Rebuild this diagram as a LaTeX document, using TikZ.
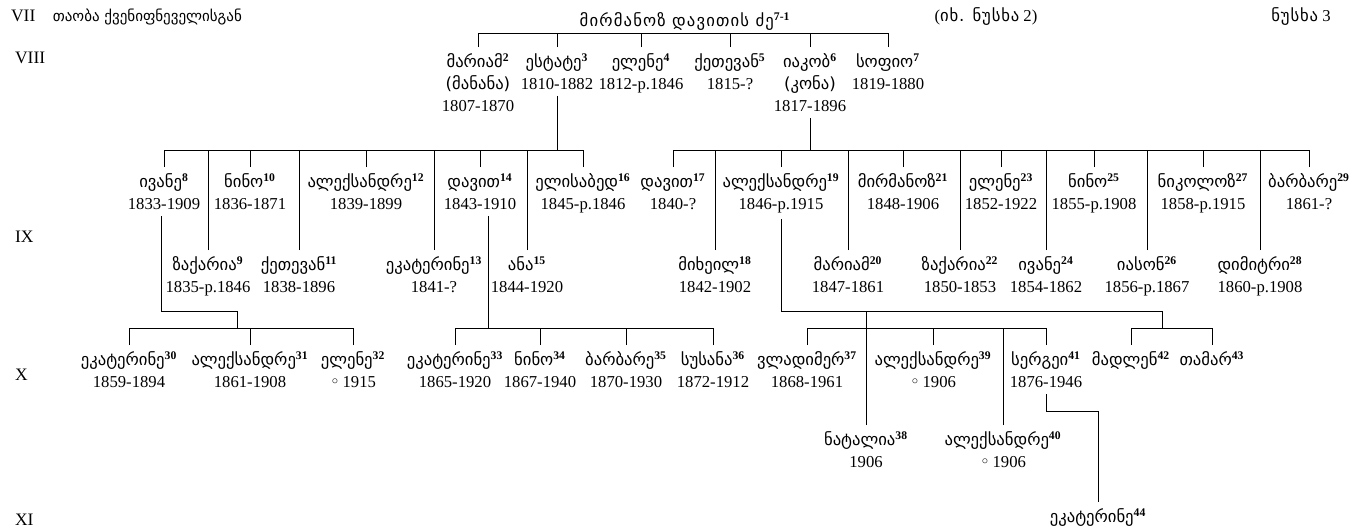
\documentclass[tikz,border=0pt]{standalone}
\usepackage{fontspec}
\setmainfont{Liberation Serif}
\newfontfamily\geofont{DejaVu Sans}
\newcommand{\gn}[2]{{\geofont #1}\textsuperscript{\textbf{#2}}}

\begin{document}
\begin{tikzpicture}[x=0.6pt,y=-0.6pt,line width=0.6pt,
  person/.style={font=\fontsize{10}{13.2}\selectfont,align=center,
    inner xsep=0pt,inner ysep=3.6pt,anchor=north},
  gen/.style={font=\fontsize{10.5}{12}\selectfont,anchor=west}]
  \useasboundingbox (0,0) rectangle (1367,528);
  % heading line
  \node[gen] (g7) at (5,17) {VII\quad{\geofont\fontsize{9}{11}\selectfont თაობა ქვენიფნეველისგან}};
  \node[person,anchor=south,inner ysep=1.5pt] (root) at (685,33)
    {{\geofont\addfontfeature{LetterSpace=7}მირმანოზ დავითის ძე}\textsuperscript{\textbf{7-1}}};
  \node[person,anchor=center] (see2) at (986,17) {({\geofont\addfontfeature{LetterSpace=5}იხ. ნუსხა} 2)};
  \node[person,anchor=center] (list3) at (1301,17) {{\geofont\addfontfeature{LetterSpace=5}ნუსხა} 3};
  \foreach \n/\r/\y in {g8/VIII/58,g9/IX/237,g10/X/375,g11/XI/520}
    \node[gen] (\n) at (9,\y) {\r};

  % generation VIII
  \node[person] (m2) at (478,47) {\gn{მარიამ}{2}\\{\geofont(მანანა)}\\1807-1870};
  \node[person] (e3) at (557,47) {\gn{ესტატე}{3}\\1810-1882};
  \node[person] (el4) at (641,47) {\gn{ელენე}{4}\\1812-p.1846};
  \node[person] (q5) at (730,47) {\gn{ქეთევან}{5}\\1815-?};
  \node[person] (i6) at (810,47) {\gn{იაკობ}{6}\\{\geofont(კონა)}\\1817-1896};
  \node[person] (s7) at (888,47) {\gn{სოფიო}{7}\\1819-1880};
  \draw (m2.north |- root.south) -- (s7.north |- root.south);
  \foreach \c in {m2,e3,el4,q5,i6,s7}
    \draw (\c.north) -- (\c.north |- root.south);

  % generation IX
  \coordinate (b9) at (0,150);
  \foreach \n/\x/\nm/\s/\d in {
    iv8/164/ივანე/8/1833-1909,
    n10/250/ნინო/10/1836-1871,
    a12/366/ალექსანდრე/12/1839-1899,
    d14/480/დავით/14/1843-1910,
    el16/583/ელისაბედ/16/1845-p.1846,
    d17/673/დავით/17/1840-?,
    a19/781/ალექსანდრე/19/1846-p.1915,
    mi21/903/მირმანოზ/21/1848-1906,
    el23/1001/ელენე/23/1852-1922,
    n25/1094/ნინო/25/1855-p.1908,
    ni27/1203/ნიკოლოზ/27/1858-p.1915,
    b29/1309/ბარბარე/29/1861-?} {
    \node[person] (\n) at (\x,167) {\gn{\nm}{\s}\\\d};
  }
  \foreach \n/\x/\nm/\s/\d in {
    z9/208/ზაქარია/9/1835-p.1846,
    q11/299/ქეთევან/11/1838-1896,
    ek13/434/ეკატერინე/13/1841-?,
    an15/527/ანა/15/1844-1920,
    mk18/715/მიხეილ/18/1842-1902,
    ma20/848/მარიამ/20/1847-1861,
    z22/960/ზაქარია/22/1850-1853,
    iv24/1046/ივანე/24/1854-1862,
    ia26/1147/იასონ/26/1856-p.1867,
    dm28/1260/დიმიტრი/28/1860-p.1908} {
    \node[person] (\n) at (\x,250) {\gn{\nm}{\s}\\\d};
  }
  \draw (e3.south) -- (e3.south |- b9);
  \draw (i6.south) -- (i6.south |- b9);
  \draw (iv8.north |- b9) -- (el16.north |- b9);
  \draw (d17.north |- b9) -- (b29.north |- b9);
  \foreach \c in {iv8,n10,a12,d14,el16,z9,q11,ek13,an15,
                  d17,a19,mi21,el23,n25,ni27,b29,mk18,ma20,z22,iv24,ia26,dm28}
    \draw (\c.north) -- (\c.north |- b9);

  % generation X
  \coordinate (c10) at (0,311);
  \coordinate (b10) at (0,328);
  \coordinate (j8) at (237,311);
  \coordinate (j19) at (1162,311);
  \foreach \n/\x/\nm/\s/\d in {
    e30/129/ეკატერინე/30/1859-1894,
    a31/250/ალექსანდრე/31/1861-1908,
    el32/353/ელენე/32/{{\geofont◦}\,1915},
    e33/455/ეკატერინე/33/1865-1920,
    n34/540/ნინო/34/1867-1940,
    b35/626/ბარბარე/35/1870-1930,
    s36/713/სუსანა/36/1872-1912,
    v37/807/ვლადიმერ/37/1868-1961,
    a39/933/ალექსანდრე/39/{{\geofont◦}\,1906},
    s41/1046/სერგეი/41/1876-1946} {
    \node[person] (\n) at (\x,345) {\gn{\nm}{\s}\\\d};
  }
  \node[person] (m42) at (1131,345) {\gn{მადლენ}{42}};
  \node[person] (t43) at (1212,345) {\gn{თამარ}{43}};
  \node[person] (nt38) at (866,425) {\gn{ნატალია}{38}\\1906};
  \node[person] (a40) at (1003,425) {\gn{ალექსანდრე}{40}\\{\geofont◦}\,1906};
  \draw (iv8.south -| 161,0) -- (161,311) -- (j8) -- (j8 |- b10);
  \draw (d14.south -| 488,0) -- (488,328);
  \draw (a19.south) -- (a19.south |- c10) -- (j19) -- (j19 |- b10);
  \draw (e30.north |- b10) -- (el32.north |- b10);
  \draw (e33.north |- b10) -- (s36.north |- b10);
  \draw (v37.north |- b10) -- (s41.north |- b10);
  \draw (m42.north |- b10) -- (t43.north |- b10);
  \foreach \c in {e30,a31,el32,e33,n34,b35,s36,v37,a39,s41,m42,t43,a40}
    \draw (\c.north) -- (\c.north |- b10);
  \draw (nt38.north) -- (nt38.north |- c10);

  % generation XI
  \coordinate (j41) at (0,411);
  \node[person] (e44) at (1098,502) {\gn{ეკატერინე}{44}};
  \draw (s41.south) -- (s41.south |- j41) -| (e44.north);
\end{tikzpicture}
\end{document}
